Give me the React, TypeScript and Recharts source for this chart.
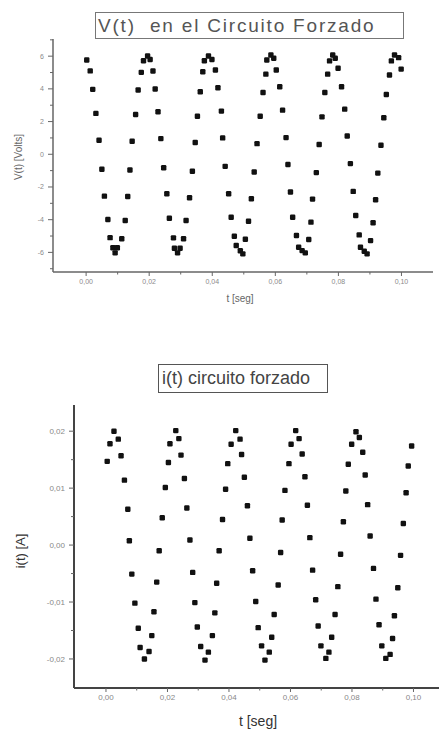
import React from 'react';
import { ScatterChart, Scatter, XAxis, YAxis } from 'recharts';

// V(t) readings, forced circuit
const vTime = [
  0.0002, 0.0013, 0.0021, 0.0031, 0.0041, 0.005, 0.0058, 0.0069, 0.0076, 0.0085, 0.0092, 0.0099,
  0.0113, 0.0124, 0.0132, 0.0139, 0.0146, 0.0157, 0.0165, 0.0175, 0.0182, 0.0195, 0.0203,
  0.0212, 0.0219, 0.0228, 0.0237, 0.0246, 0.0256, 0.0264, 0.0277, 0.028, 0.029, 0.0298,
  0.0309, 0.0317, 0.0328, 0.0337, 0.0346, 0.0353, 0.0362, 0.037, 0.0375, 0.0388, 0.0399,
  0.041, 0.0418, 0.0429, 0.0433, 0.0441, 0.0452, 0.046, 0.047, 0.0476, 0.0489, 0.0497,
  0.0505, 0.0515, 0.0524, 0.0533, 0.0542, 0.0552, 0.0561, 0.057, 0.0573, 0.0586, 0.0595,
  0.0603, 0.0614, 0.0623, 0.0634, 0.064, 0.0648, 0.0655, 0.0667, 0.0674, 0.0685, 0.0695,
  0.0706, 0.0713, 0.0718, 0.073, 0.0739, 0.0748, 0.0757, 0.0766, 0.0772, 0.0782, 0.079,
  0.0799, 0.081, 0.082, 0.0828, 0.0838, 0.0847, 0.0855, 0.0866, 0.087, 0.0882, 0.0891,
  0.0902, 0.091, 0.0918, 0.0925, 0.0935, 0.0944, 0.0952, 0.0962, 0.0968, 0.0978, 0.0991, 0.0999,
];
const vVolts = [
  5.77, 5.1, 3.97, 2.5, 0.86, -0.92, -2.56, -3.99, -5.1, -5.72, -6.03, -5.72,
  -5.17, -4.05, -2.58, -0.96, 0.8, 2.43, 3.93, 5.01, 5.72, 6.01, 5.8,
  5.09, 3.99, 2.6, 0.96, -0.82, -2.41, -3.91, -5.11, -5.75, -6.03, -5.75,
  -5.17, -4.05, -2.66, -1.04, 0.72, 2.33, 3.82, 5.05, 5.72, 6.01, 5.8,
  5.15, 4.07, 2.64, 1.0, -0.74, -2.41, -3.85, -5.01, -5.58, -5.9, -6.09,
  -5.2, -4.1, -2.72, -1.08, 0.65, 2.33, 3.78, 4.9, 5.77, 6.07, 5.87,
  5.15, 4.13, 2.7, 1.02, -0.63, -2.31, -3.85, -4.97, -5.69, -5.89, -6.03,
  -5.21, -4.15, -2.74, -1.12, 0.6, 2.29, 3.78, 4.9, 5.71, 6.07, 5.87,
  5.26, 4.13, 2.76, 1.12, -0.57, -2.27, -3.74, -4.93, -5.69, -5.93, -6.09,
  -5.28, -4.19, -2.78, -1.15, 0.55, 2.23, 3.66, 4.85, 5.71, 6.07, 5.91, 5.21,
];

// i(t) readings, forced circuit
const iTime = [
  0.0004, 0.0013, 0.0026, 0.004, 0.0049, 0.006, 0.0071, 0.0076, 0.0084, 0.0094, 0.0105, 0.0111,
  0.0125, 0.014, 0.0149, 0.0156, 0.0165, 0.0173, 0.0183, 0.0193, 0.0203, 0.0208,
  0.0227, 0.0237, 0.0244, 0.0255, 0.0263, 0.0273, 0.0282, 0.0289, 0.0297, 0.0308,
  0.0322, 0.0333, 0.0346, 0.0354, 0.036, 0.0368, 0.0379, 0.0389, 0.0396, 0.0407,
  0.0422, 0.0436, 0.0441, 0.045, 0.046, 0.0468, 0.0477, 0.0487, 0.0495, 0.0506,
  0.0517, 0.0531, 0.0539, 0.0547, 0.056, 0.0568, 0.0573, 0.0582, 0.0595, 0.0602,
  0.0617, 0.0628, 0.0638, 0.0647, 0.0655, 0.0663, 0.0672, 0.0682, 0.069, 0.0699,
  0.0715, 0.0725, 0.0734, 0.0745, 0.0754, 0.0763, 0.0772, 0.078, 0.0788, 0.0799,
  0.0813, 0.0824, 0.0835, 0.0843, 0.0851, 0.0859, 0.087, 0.0878, 0.0888, 0.0897,
  0.091, 0.0924, 0.0932, 0.0938, 0.0949, 0.0958, 0.0967, 0.0976, 0.0983, 0.0994,
];
const iAmps = [
  0.0147, 0.0178, 0.02, 0.0186, 0.0157, 0.0114, 0.0063, 0.00075, -0.0051, -0.0102, -0.0146, -0.018,
  -0.02, -0.0187, -0.0159, -0.0117, -0.0065, -0.001, 0.0048, 0.0101, 0.0145, 0.0178,
  0.0201, 0.0187, 0.0158, 0.0117, 0.0065, 0.0009, -0.0048, -0.0101, -0.0144, -0.0178,
  -0.0202, -0.0188, -0.0159, -0.0119, -0.0067, -0.001, 0.0045, 0.0098, 0.0143, 0.0177,
  0.0201, 0.0186, 0.0159, 0.0119, 0.0069, 0.0012, -0.0045, -0.0099, -0.0145, -0.0177,
  -0.0202, -0.0188, -0.0162, -0.0122, -0.007, -0.0013, 0.0044, 0.0096, 0.0143, 0.0177,
  0.0201, 0.0187, 0.016, 0.012, 0.007, 0.0013, -0.0044, -0.0096, -0.0142, -0.0177,
  -0.0199, -0.0188, -0.0162, -0.0122, -0.0073, -0.0016, 0.0041, 0.0095, 0.0142, 0.0177,
  0.0199, 0.0189, 0.0163, 0.0123, 0.0071, 0.0016, -0.0041, -0.0095, -0.014, -0.0177,
  -0.0199, -0.0192, -0.0164, -0.0124, -0.0075, -0.0018, 0.0038, 0.0092, 0.0139, 0.0174,
];

const timeTicks = [0, 0.01, 0.02, 0.03, 0.04, 0.05, 0.06, 0.07, 0.08, 0.09, 0.1];
const voltTicks = [-7, -6, -5, -4, -3, -2, -1, 0, 1, 2, 3, 4, 5, 6, 7];
const ampTicks = [-0.02, -0.015, -0.01, -0.005, 0, 0.005, 0.01, 0.015, 0.02];

const vData = vTime.map((t, i) => ({ t, v: vVolts[i] }));
const iData = iTime.map((t, i) => ({ t, a: iAmps[i] }));

const comma = (n: number, d: number) => n.toFixed(d).replace('.', ',').replace(/^-0,0+$/, '0,00');

const Square = (props: any) => (
  <rect x={props.cx - 2.7} y={props.cy - 2.7} width={5.4} height={5.4} rx={1.2} fill="#111" />
);

const makeXTick = (axisY: number, size: number, color: string) => (props: any) => {
  const v = props.payload.value;
  const major = Math.round(v * 100) % 2 === 0;
  return (
    <g>
      <line x1={props.x} x2={props.x} y1={axisY} y2={axisY + (major ? 4 : 2.5)} stroke="#666" />
      {major && (
        <text x={props.x} y={axisY + 12} textAnchor="middle" fontSize={size} fill={color}>
          {comma(v, 2)}
        </text>
      )}
    </g>
  );
};

const makeYTick = (axisX: number, size: number, color: string, isMajor: (v: number) => boolean, fmt: (v: number) => string) =>
  (props: any) => {
    const v = props.payload.value;
    const major = isMajor(v);
    return (
      <g>
        <line x1={axisX - (major ? 5 : 3)} x2={axisX} y1={props.y} y2={props.y} stroke="#666" />
        {major && (
          <text x={axisX - 9} y={props.y} dy="0.35em" textAnchor="end" fontSize={size} fill={color}>
            {fmt(v)}
          </text>
        )}
      </g>
    );
  };

const font = '"Liberation Sans", Arial, sans-serif';

export default function App() {
  return (
    <div style={{ position: 'absolute', left: 0, top: 0, width: 439, height: 732, background: '#fff', fontFamily: font }}>
      <div style={{ position: 'absolute', left: 0, top: 0 }}>
        <ScatterChart width={439} height={310} margin={{ top: 39, right: 6, bottom: 0, left: 0 }}>
          <XAxis
            type="number"
            dataKey="t"
            domain={[-0.0105, 0.11]}
            ticks={timeTicks}
            interval={0}
            height={38}
            axisLine={{ stroke: '#666', strokeWidth: 1.5 }}
            tickLine={false}
            tick={makeXTick(272, 7, '#8a8a8a')}
          />
          <YAxis
            type="number"
            dataKey="v"
            domain={[-7.2, 7.05]}
            ticks={voltTicks}
            interval={0}
            width={53}
            axisLine={{ stroke: '#666', strokeWidth: 1.5 }}
            tickLine={false}
            tick={makeYTick(53, 7, '#8a8a8a', (v) => v % 2 === 0, (v) => String(v))}
          />
          <Scatter data={vData} shape={Square} isAnimationActive={false} />
        </ScatterChart>
      </div>

      <div style={{ position: 'absolute', left: 95, top: 12, width: 309, height: 27, boxSizing: 'border-box', border: '1.5px solid #777', color: '#555', fontSize: 19, lineHeight: '25px', paddingLeft: 2, whiteSpace: 'pre', letterSpacing: 1.8 }}>
        {'V(t)  en el Circuito Forzado'}
      </div>
      <div style={{ position: 'absolute', left: 18, top: 157, transform: 'translate(-50%, -50%) rotate(-90deg)', fontSize: 10, color: '#666', whiteSpace: 'nowrap' }}>
        V(t) [Volts]
      </div>
      <div style={{ position: 'absolute', left: 240, top: 298, transform: 'translate(-50%, -50%)', fontSize: 10, color: '#666', whiteSpace: 'nowrap' }}>
        t [seg]
      </div>

      <div style={{ position: 'absolute', left: 0, top: 355 }}>
        <ScatterChart width={439} height={377} margin={{ top: 50, right: 0, bottom: 0, left: 0 }}>
          <XAxis
            type="number"
            dataKey="t"
            domain={[-0.0104, 0.1083]}
            ticks={timeTicks}
            interval={0}
            height={44}
            axisLine={{ stroke: '#444', strokeWidth: 2 }}
            tickLine={false}
            tick={makeXTick(333, 8, '#888')}
          />
          <YAxis
            type="number"
            dataKey="a"
            domain={[-0.0251, 0.0246]}
            ticks={ampTicks}
            interval={0}
            width={74}
            axisLine={{ stroke: '#444', strokeWidth: 2 }}
            tickLine={false}
            tick={makeYTick(74, 8, '#888', (v) => Math.abs(Math.round(v * 1000)) % 10 === 0, (v) => comma(v, 2))}
          />
          <Scatter data={iData} shape={Square} isAnimationActive={false} />
        </ScatterChart>
      </div>

      <div style={{ position: 'absolute', left: 158, top: 364, width: 170, height: 29, boxSizing: 'border-box', border: '1.5px solid #555', color: '#444', fontSize: 18, lineHeight: '27px', paddingLeft: 3, whiteSpace: 'nowrap' }}>
        i(t) circuito forzado
      </div>
      <div style={{ position: 'absolute', left: 20, top: 551, transform: 'translate(-50%, -50%) rotate(-90deg)', fontSize: 13, color: '#333', whiteSpace: 'nowrap' }}>
        i(t) [A]
      </div>
      <div style={{ position: 'absolute', left: 258, top: 721, transform: 'translate(-50%, -50%)', fontSize: 14, color: '#333', whiteSpace: 'nowrap' }}>
        t [seg]
      </div>
    </div>
  );
}
